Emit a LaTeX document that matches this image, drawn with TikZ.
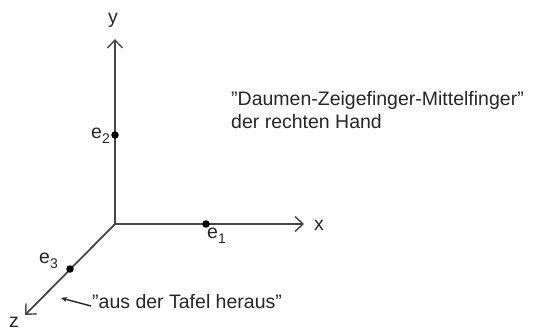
\documentclass[tikz,border=0pt]{standalone}
\usepackage{fontspec}
\setmainfont[Ligatures=NoCommon]{Liberation Sans}
\usetikzlibrary{arrows.meta}
\newcommand{\lblsub}[1]{\raisebox{-5pt}{\fontsize{14}{14}\selectfont #1}}
\begin{document}
\begin{tikzpicture}[x=1pt,y=-1pt,
  axis/.style={draw=black!72, line width=1.8pt, -{Straight Barb[length=8pt,width=15pt,line width=1.4pt]}},
  lbl/.style={font=\fontsize{19.5}{24}\selectfont, text=black!85, inner sep=0pt},
  dot/.style={circle, fill=black, inner sep=0pt, minimum size=7.5pt}]
\useasboundingbox (0,0) rectangle (535,329);
\coordinate (O) at (115,224);
\coordinate (Y) at (115,39);
\coordinate (X) at (304,224);
\coordinate (Z) at (25,315);
\draw[axis] (O) -- (Y);
\draw[axis] (O) -- (X);
\draw[axis] (O) -- (Z);
\node[dot] (e1) at (206,224) {};
\node[dot] (e2) at (115,135) {};
\node[dot] (e3) at (70,269) {};
\node[lbl, anchor=base] (ly) at (113,24) {y};
\node[lbl, anchor=base] (lx) at (319,230) {x};
\node[lbl, anchor=base] (lz) at (14,327) {z};
\node[lbl, anchor=base east] (le2) at (110,138) {e\lblsub{2}};
\node[lbl, anchor=base west] (le1) at (207,238) {e\lblsub{1}};
\node[lbl, anchor=base west] (le3) at (39,263) {e\lblsub{3}};
\node[lbl, anchor=base west] (txt1) at (231,105) {\symbol{34}Daumen-Zeigefinger-Mittelfinger\symbol{34}};
\node[lbl, anchor=base west] (txt2) at (231,128) {der rechten Hand};
\node[lbl, anchor=base west] (aus) at (92,308) {\symbol{34}aus der Tafel heraus\symbol{34}};
\coordinate (tip) at (61,298);
\coordinate (tail) at (91,306);
\draw[black!85, line width=1.4pt, -{Stealth[length=6pt,width=5pt]}] (tail) -- (tip);
\end{tikzpicture}
\end{document}
